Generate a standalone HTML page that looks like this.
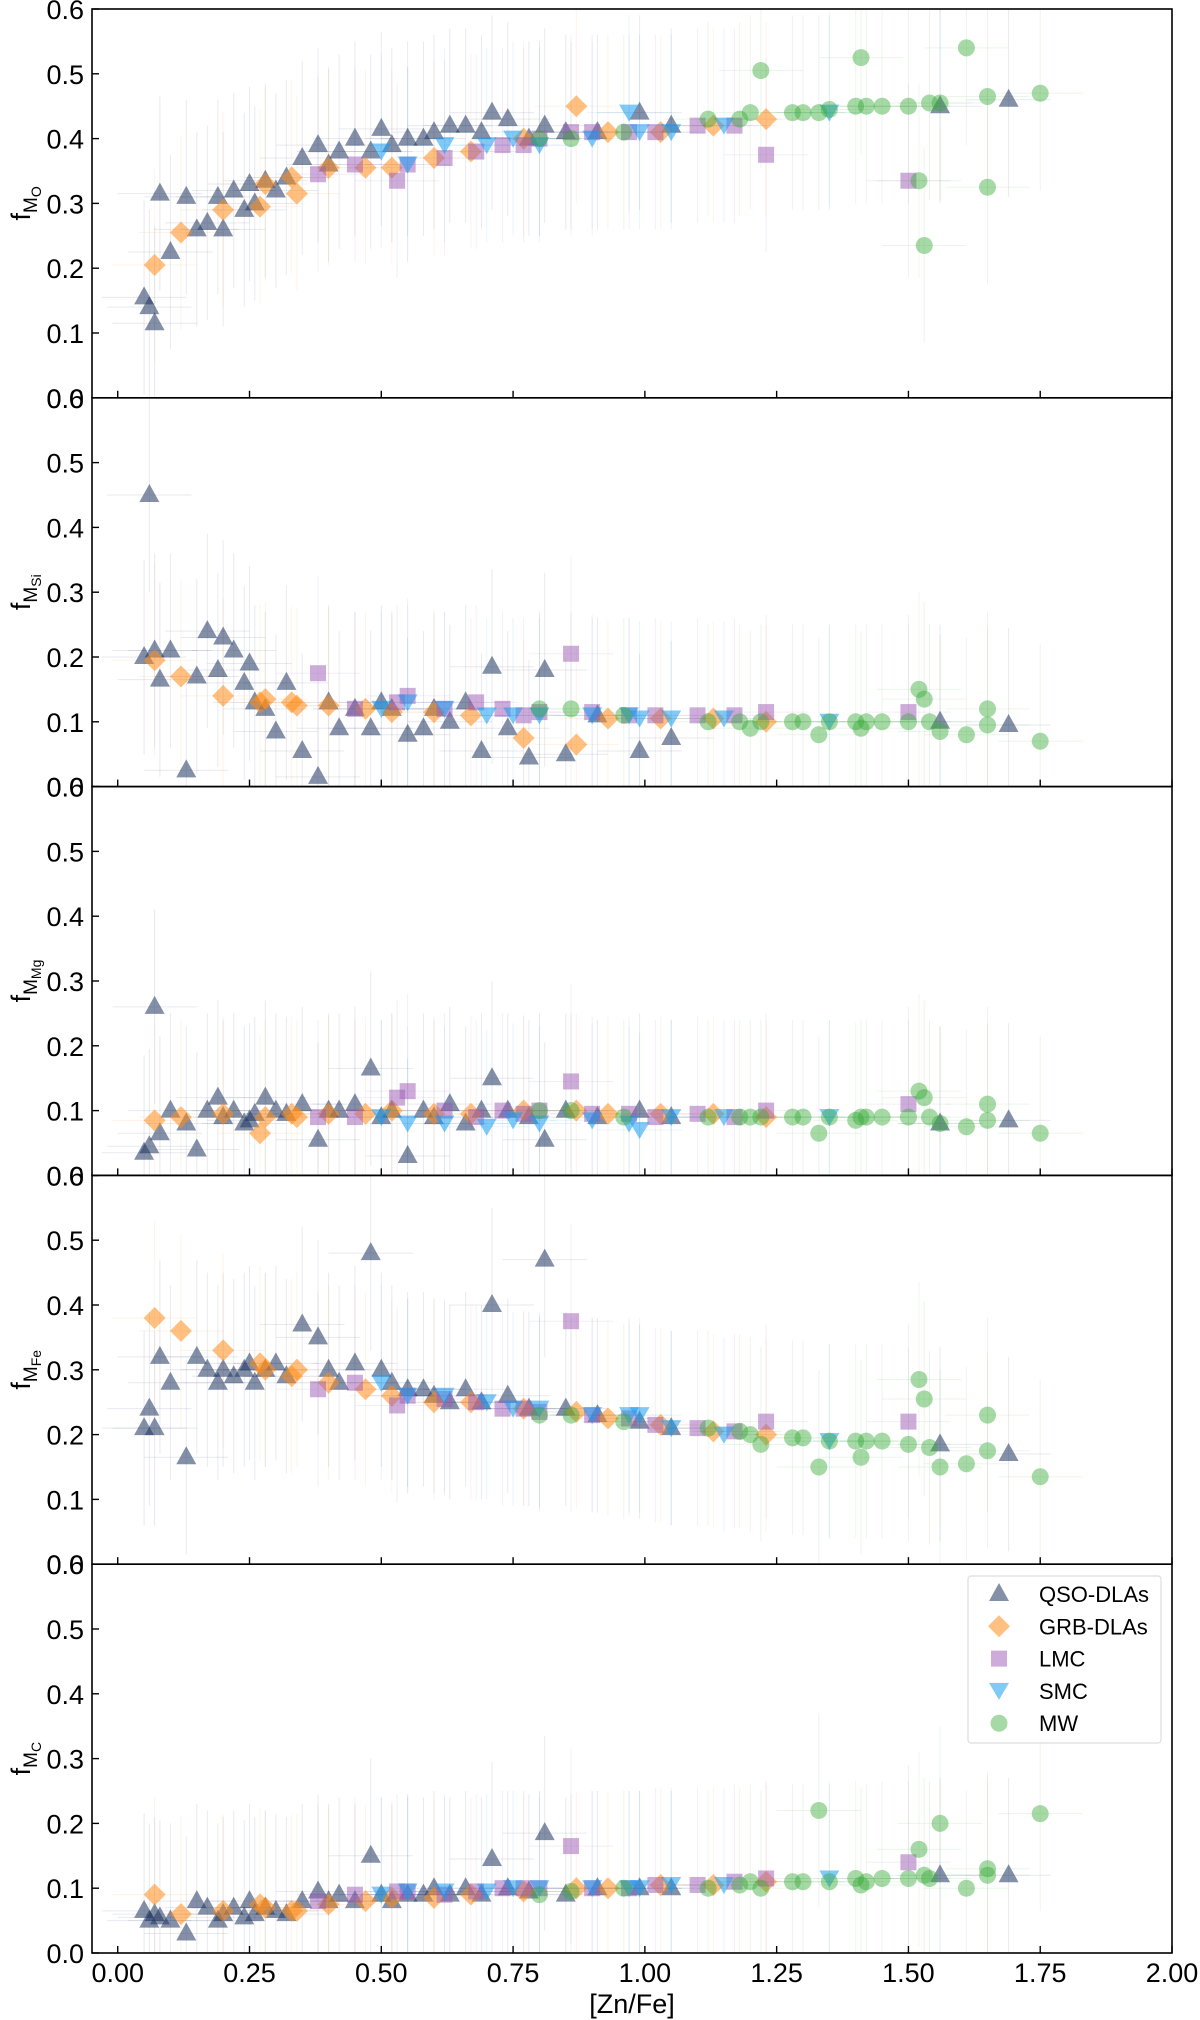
<!DOCTYPE html>
<html><head><meta charset="utf-8"><style>
html,body{margin:0;padding:0;background:#fff;}
svg{display:block;font-family:"Liberation Sans",sans-serif;}
</style></head><body>
<svg id="fig" width="1200" height="2020" viewBox="0 0 1200 2020"></svg>
<script>
const xTicks=[0,0.25,0.5,0.75,1.0,1.25,1.5,1.75,2.0];
const xTickLabels=["0.00","0.25","0.50","0.75","1.00","1.25","1.50","1.75","2.00"];
const yTicks=[0,0.1,0.2,0.3,0.4,0.5,0.6];
const yTickLabels=["0.0","0.1","0.2","0.3","0.4","0.5","0.6"];
const panelLabels=["O","Si","Mg","Fe","C"];

const qsoX=[0.05,0.06,0.07,0.08,0.1,0.13,0.15,0.17,0.19,0.2,0.22,0.24,0.25,0.26,0.28,0.3,0.32,0.35,0.38,0.4,0.42,0.45,0.48,0.5,0.52,0.55,0.58,0.6,0.63,0.66,0.69,0.71,0.74,0.78,0.81,0.85,0.91,0.99,1.05,1.56,1.69];
const qsoO=[0.155,0.14,0.115,0.315,0.225,0.31,0.26,0.27,0.31,0.26,0.32,0.29,0.33,0.3,0.335,0.32,0.34,0.37,0.39,0.36,0.38,0.4,0.38,0.415,0.39,0.4,0.4,0.41,0.42,0.42,0.41,0.44,0.43,0.4,0.42,0.41,0.41,0.44,0.42,0.45,0.46];
const qsoSi=[0.2,0.45,0.21,0.165,0.21,0.025,0.17,0.24,0.18,0.23,0.21,0.16,0.19,0.13,0.12,0.085,0.16,0.055,0.015,0.13,0.09,0.12,0.09,0.13,0.12,0.08,0.09,0.12,0.1,0.13,0.055,0.185,0.09,0.045,0.18,0.05,0.11,0.055,0.075,0.1,0.095];
const qsoMg=[0.035,0.045,0.26,0.065,0.1,0.08,0.04,0.1,0.12,0.09,0.1,0.08,0.085,0.095,0.12,0.1,0.095,0.11,0.055,0.1,0.1,0.11,0.165,0.09,0.1,0.03,0.1,0.09,0.11,0.08,0.1,0.15,0.1,0.09,0.055,0.1,0.09,0.1,0.09,0.08,0.085];
const qsoFe=[0.21,0.24,0.21,0.32,0.28,0.165,0.32,0.3,0.28,0.3,0.29,0.3,0.31,0.28,0.3,0.31,0.29,0.37,0.35,0.3,0.28,0.31,0.48,0.3,0.28,0.27,0.27,0.26,0.25,0.27,0.25,0.4,0.26,0.24,0.47,0.24,0.23,0.22,0.21,0.185,0.17];
const qsoC=[0.065,0.05,0.06,0.055,0.05,0.03,0.08,0.07,0.05,0.06,0.07,0.055,0.08,0.06,0.07,0.065,0.06,0.08,0.095,0.08,0.09,0.08,0.15,0.09,0.08,0.09,0.09,0.1,0.09,0.1,0.09,0.145,0.1,0.095,0.185,0.09,0.1,0.1,0.1,0.12,0.12];

const grbX=[0.07,0.12,0.2,0.27,0.28,0.33,0.34,0.4,0.47,0.52,0.6,0.67,0.77,0.87,0.93,1.03,1.13,1.23];
const grbO=[0.205,0.255,0.29,0.295,0.33,0.34,0.315,0.355,0.355,0.355,0.37,0.38,0.4,0.45,0.41,0.41,0.42,0.43];
const grbSi=[0.195,0.17,0.14,0.13,0.135,0.13,0.125,0.125,0.12,0.115,0.115,0.11,0.075,0.065,0.105,0.105,0.105,0.1];
const grbMg=[0.085,0.09,0.095,0.065,0.09,0.095,0.09,0.095,0.095,0.1,0.095,0.095,0.1,0.1,0.095,0.095,0.095,0.09];
const grbFe=[0.38,0.36,0.33,0.31,0.3,0.29,0.3,0.28,0.27,0.26,0.25,0.25,0.24,0.235,0.225,0.215,0.205,0.2];
const grbC=[0.09,0.06,0.065,0.075,0.07,0.065,0.065,0.075,0.08,0.085,0.085,0.09,0.095,0.1,0.1,0.105,0.105,0.11];

const lmcX=[0.38,0.45,0.53,0.55,0.62,0.68,0.73,0.77,0.8,0.86,0.9,0.97,1.02,1.1,1.17,1.23,1.5];
const lmcO=[0.345,0.36,0.335,0.36,0.37,0.38,0.39,0.39,0.4,0.41,0.41,0.41,0.41,0.42,0.42,0.375,0.335];
const lmcSi=[0.175,0.12,0.13,0.14,0.12,0.13,0.12,0.11,0.115,0.205,0.115,0.11,0.11,0.11,0.11,0.115,0.115];
const lmcMg=[0.09,0.09,0.12,0.13,0.1,0.09,0.1,0.095,0.1,0.145,0.095,0.095,0.09,0.095,0.09,0.1,0.11];
const lmcFe=[0.27,0.28,0.245,0.26,0.255,0.25,0.24,0.24,0.235,0.375,0.23,0.225,0.215,0.21,0.205,0.22,0.22];
const lmcC=[0.08,0.09,0.095,0.095,0.09,0.095,0.1,0.1,0.1,0.165,0.1,0.1,0.105,0.105,0.11,0.115,0.14];

const smcX=[0.5,0.55,0.62,0.7,0.75,0.8,0.9,0.97,0.99,1.05,1.15,1.35];
const smcO=[0.38,0.36,0.39,0.39,0.4,0.39,0.4,0.44,0.41,0.41,0.42,0.44];
const smcSi=[0.12,0.13,0.12,0.11,0.11,0.11,0.11,0.11,0.105,0.105,0.105,0.1];
const smcMg=[0.09,0.08,0.08,0.075,0.085,0.08,0.085,0.08,0.07,0.09,0.09,0.09];
const smcFe=[0.28,0.26,0.26,0.25,0.24,0.24,0.23,0.23,0.23,0.21,0.2,0.19];
const smcC=[0.09,0.095,0.095,0.095,0.1,0.1,0.1,0.1,0.1,0.105,0.105,0.115];

const mwX=[0.8,0.86,0.96,1.12,1.18,1.2,1.22,1.28,1.3,1.33,1.35,1.4,1.41,1.42,1.45,1.5,1.52,1.53,1.54,1.56,1.61,1.65,1.65,1.75];
const mwO=[0.4,0.4,0.41,0.43,0.43,0.44,0.505,0.44,0.44,0.44,0.445,0.45,0.525,0.45,0.45,0.45,0.335,0.235,0.455,0.455,0.54,0.465,0.325,0.47];
const mwSi=[0.12,0.12,0.11,0.1,0.1,0.09,0.1,0.1,0.1,0.08,0.1,0.1,0.09,0.1,0.1,0.1,0.15,0.135,0.1,0.085,0.08,0.095,0.12,0.07];
const mwMg=[0.1,0.1,0.09,0.09,0.09,0.09,0.09,0.09,0.09,0.065,0.09,0.085,0.09,0.09,0.09,0.09,0.13,0.12,0.09,0.08,0.075,0.085,0.11,0.065];
const mwFe=[0.23,0.23,0.22,0.21,0.205,0.2,0.185,0.195,0.195,0.15,0.19,0.19,0.165,0.19,0.19,0.185,0.285,0.255,0.18,0.15,0.155,0.175,0.23,0.135];
const mwC=[0.09,0.095,0.1,0.1,0.105,0.11,0.1,0.11,0.11,0.22,0.11,0.115,0.105,0.11,0.115,0.115,0.16,0.12,0.115,0.2,0.1,0.12,0.13,0.215];

const NS="http://www.w3.org/2000/svg";
const svg=document.getElementById('fig');
const L=92,R=1172,T=9,B=1953;
const PH=(B-T)/5;
const xmin=-0.0488,xmax=2.0;
function sx(v){return L+(v-xmin)/(xmax-xmin)*(R-L);}
function sy(p,v){return T+PH*(p+1)-v/0.6*PH;}
function mk(tag,attrs,parent){const e=document.createElementNS(NS,tag);for(const k in attrs)e.setAttribute(k,attrs[k]);(parent||svg).appendChild(e);return e;}

const groups=[
 {name:'qso',x:qsoX,ys:[qsoO,qsoSi,qsoMg,qsoFe,qsoC],color:'#1f3560',op:0.55,shape:'tri'},
 {name:'grb',x:grbX,ys:[grbO,grbSi,grbMg,grbFe,grbC],color:'#ff8c1a',op:0.55,shape:'dia'},
 {name:'lmc',x:lmcX,ys:[lmcO,lmcSi,lmcMg,lmcFe,lmcC],color:'#9b59b6',op:0.5,shape:'sq'},
 {name:'smc',x:smcX,ys:[smcO,smcSi,smcMg,smcFe,smcC],color:'#1a9cf0',op:0.55,shape:'vtri'},
 {name:'mw',x:mwX,ys:[mwO,mwSi,mwMg,mwFe,mwC],color:'#3aaa3a',op:0.45,shape:'circ'}
];
function marker(shape,cx,cy,color,op,parent){
  let e;
  if(shape==='tri') e=mk('polygon',{points:`${cx},${cy-11} ${cx-10},${cy+7} ${cx+10},${cy+7}`},parent);
  else if(shape==='vtri') e=mk('polygon',{points:`${cx},${cy+9} ${cx-10},${cy-8} ${cx+10},${cy-8}`},parent);
  else if(shape==='dia') e=mk('polygon',{points:`${cx},${cy-11} ${cx+11},${cy} ${cx},${cy+11} ${cx-11},${cy}`},parent);
  else if(shape==='sq') e=mk('rect',{x:cx-8,y:cy-8,width:16,height:16},parent);
  else e=mk('circle',{cx:cx,cy:cy,r:8.5},parent);
  e.setAttribute('fill',color);e.setAttribute('fill-opacity',op);
  return e;
}

for(let p=0;p<5;p++){
  const g=mk('g',{});
  
  
  const top=T+PH*p, bot=T+PH*(p+1);
  const clipId='clip'+p;
  const cp=mk('clipPath',{id:clipId},g);mk('rect',{x:L,y:top,width:R-L,height:PH},cp);
  const plot=mk('g',{'clip-path':`url(#${clipId})`},g);
  // error bars
  groups.forEach(gr=>{
    gr.x.forEach((xv,i)=>{
      const yv=gr.ys[p][i];
      const eb=mk('path',{d:`M${sx(xv)},${sy(p,Math.max(0,yv-0.15))}V${sy(p,yv+0.15)}M${sx(xv-0.08)},${sy(p,yv)}H${sx(xv+0.08)}`,stroke:gr.color,'stroke-opacity':0.1,'stroke-width':1,fill:'none'},plot);
      
      
    });
  });
  groups.forEach(gr=>{
    gr.x.forEach((xv,i)=>{
      const m=marker(gr.shape,sx(xv),sy(p,gr.ys[p][i]),gr.color,gr.op,plot);
      
      
    });
  });
  const fr=mk('rect',{x:L,y:top,width:R-L,height:PH,fill:'none',stroke:'#000','stroke-width':1.6},g);
  
  
  yTicks.forEach((t,i)=>{
    const y=sy(p,t);
    mk('line',{x1:L,x2:L+7,y1:y,y2:y,stroke:'#000','stroke-width':1.4},g);
    const tx=mk('text',{x:L-8,y:y+10,'text-anchor':'end','font-size':27,fill:'#000'},g);
    tx.textContent=yTickLabels[i];
    
    
  });
  xTicks.forEach(t=>{
    const x=sx(t);
    mk('line',{x1:x,x2:x,y1:bot,y2:bot-7,stroke:'#000','stroke-width':1.4},g);
  });
  const yc=(top+bot)/2;
  const yl=mk('text',{x:0,y:0,transform:`translate(30,${yc}) rotate(-90)`,'text-anchor':'middle','font-size':27,fill:'#000'},g);
  
  
  yl.innerHTML=`f<tspan font-size="19" dy="7">M</tspan><tspan font-size="14" dy="4">${panelLabels[p]}</tspan>`;
}
xTicks.forEach((t,i)=>{
  const tx=mk('text',{x:sx(t),y:1982,'text-anchor':'middle','font-size':27,fill:'#000'});
  tx.textContent=xTickLabels[i];
  
  
});
const xl=mk('text',{x:632,y:2013,'text-anchor':'middle','font-size':27,fill:'#000'});
xl.textContent='[Zn/Fe]';



// legend
const leg=mk('g',{});


mk('rect',{x:968,y:1576,width:193,height:167,rx:3,fill:'#fff','fill-opacity':0.8,stroke:'#ddd','stroke-width':1.2},leg);
const legNames=['QSO-DLAs','GRB-DLAs','LMC','SMC','MW'];
groups.forEach((gr,i)=>{
  const y=1594+i*32.3;
  const e=mk('g',{},leg);
  
  
  marker(gr.shape,999,y,gr.color,gr.op,e);
  const t=mk('text',{x:1039,y:y+8,'font-size':22,fill:'#000'},e);
  t.textContent=legNames[i];
});
</script>
</body></html>
